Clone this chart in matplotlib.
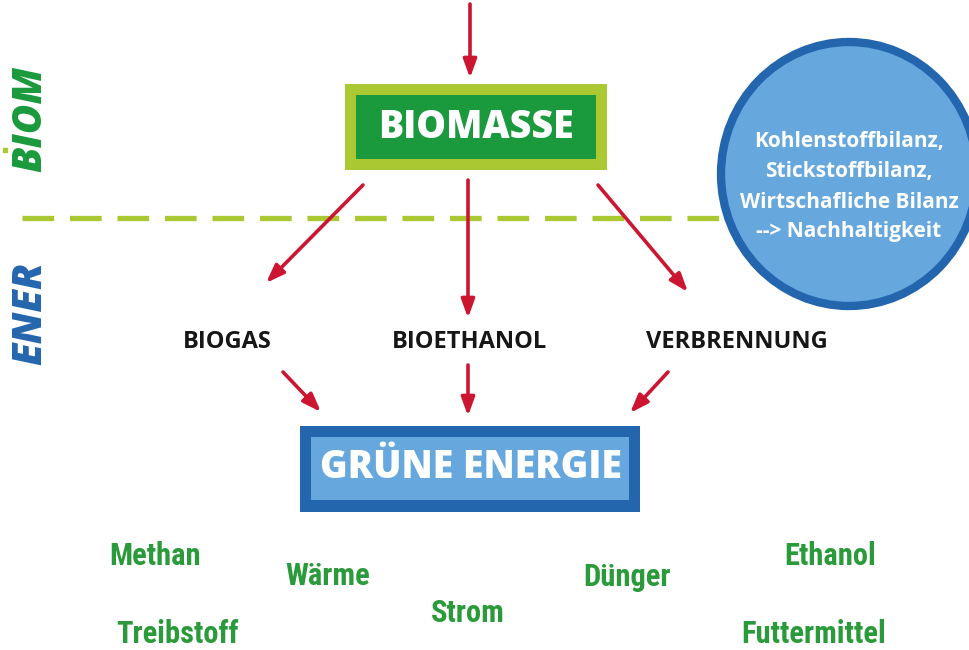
import matplotlib
matplotlib.use("Agg")
import matplotlib.pyplot as plt
from matplotlib import font_manager
from matplotlib.patches import Rectangle, Ellipse

# diagram texts
top_box = "BIOMASSE"
bottom_box = "GRÜNE ENERGIE"
processes = ["BIOGAS", "BIOETHANOL", "VERBRENNUNG"]
products = ["Methan", "Wärme", "Strom", "Dünger", "Ethanol", "Treibstoff", "Futtermittel"]
balance_lines = ["Kohlenstoffbilanz,", "Stickstoffbilanz,", "Wirtschafliche Bilanz", "--> Nachhaltigkeit"]
side_labels = ["BIOM", "ENER"]

# layout (pixel coords, y down)
process_xy = [(227, 342), (470, 342), (737, 342)]
product_xy = [(155, 556), (328, 576), (468, 613), (627, 577), (830, 556), (178, 634), (814, 634)]

RED = "#cc1530"
LIME = "#aac832"
GREEN = "#1a9a3c"
TXT_GREEN = "#2a9a3a"
BLUE_D = "#2466ae"
BLUE_L = "#66a8de"


def pick(*names):
    have = {f.name for f in font_manager.fontManager.ttflist}
    for n in names:
        if n in have:
            return n
    return "DejaVu Sans"


BOLD = pick("Open Sans", "Noto Sans", "DejaVu Sans")
NARROW = pick("Liberation Sans Narrow", "Roboto Condensed", "DejaVu Sans")

fig = plt.figure(figsize=(9.7, 6.5), dpi=100)
ax = fig.add_axes([0, 0, 1, 1])
ax.set_xlim(0, 970)
ax.set_ylim(650, 0)
ax.axis("off")


def arrow(x0, y0, x1, y1):
    ax.annotate("", xy=(x1, y1), xytext=(x0, y0),
                arrowprops=dict(arrowstyle="-|>,head_length=1.1,head_width=0.4",
                                lw=2.6, color=RED, shrinkA=0, shrinkB=0), zorder=4)


# dashed separator
ax.plot([22, 740], [218, 218], color=LIME, lw=3.8, dashes=(6, 3), zorder=1)

# side labels
ax.text(31, 119, side_labels[0], rotation=90, ha="center", va="center", color=GREEN,
        fontsize=29, fontweight=800, fontstyle="italic", family=BOLD)
ax.plot([5], [150], marker="s", ms=3, color=LIME)
ax.text(31, 313, side_labels[1], rotation=90, ha="center", va="center", color=BLUE_D,
        fontsize=29, fontweight=800, fontstyle="italic", family=BOLD)

# BIOMASSE box
ax.add_patch(Rectangle((345, 84), 262, 86, facecolor=LIME, edgecolor="none", zorder=2))
ax.add_patch(Rectangle((356, 95), 240, 64, facecolor=GREEN, edgecolor="none", zorder=3))
ax.text(476, 128, top_box, ha="center", va="center", color="white",
        fontsize=27, fontweight=800, family=BOLD, zorder=4)

# circle
ax.add_patch(Ellipse((849, 174), 256, 264, facecolor=BLUE_L, edgecolor=BLUE_D, lw=6, zorder=2))
for i, line in enumerate(balance_lines):
    ax.text(849, 142 + 30 * i, line, ha="center", va="center", color="white",
            fontsize=15, fontweight="bold", family=BOLD, zorder=3)

# arrows
arrow(470, 4, 470, 78)
arrow(363, 185, 266, 283)
arrow(468, 180, 468, 318)
arrow(598, 185, 688, 292)
arrow(283, 372, 321, 412)
arrow(468, 365, 468, 416)
arrow(668, 372, 630, 413)

# process labels
for label, (x, y) in zip(processes, process_xy):
    ax.text(x, y, label, ha="center", va="center", color="#161616",
            fontsize=17, fontweight="bold", family=BOLD)

# GRÜNE ENERGIE box
ax.add_patch(Rectangle((300, 426), 340, 86, facecolor=BLUE_D, edgecolor="none", zorder=2))
ax.add_patch(Rectangle((311, 437), 318, 63, facecolor=BLUE_L, edgecolor="none", zorder=3))
ax.text(471, 468, bottom_box, ha="center", va="center", color="white",
        fontsize=27, fontweight=800, family=BOLD, zorder=4)

# products
for label, (x, y) in zip(products, product_xy):
    ax.text(x, y, label, ha="center", va="center", color=TXT_GREEN,
            fontsize=22, fontweight="bold", family=NARROW)

fig.savefig("out.png", dpi=100)
